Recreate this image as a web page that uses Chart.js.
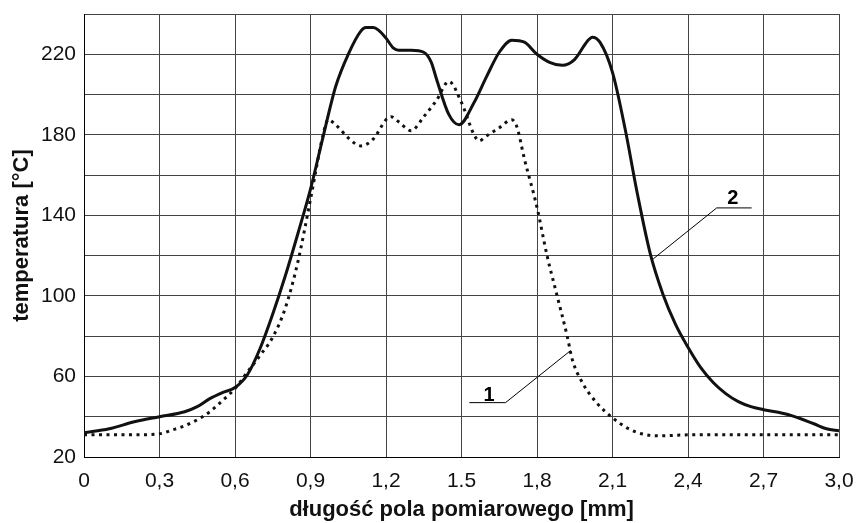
<!DOCTYPE html>
<html>
<head>
<meta charset="utf-8">
<script src="https://cdn.jsdelivr.net/npm/chart.js@4.4.1/dist/chart.umd.min.js"></script>
<style>
  html, body { margin: 0; padding: 0; background: #fff; }
  canvas { display: block; }
</style>
</head>
<body>
<canvas id="wykres" width="858" height="523"></canvas>
<script>
// Krzywa 1 (kropkowana) - położenie [mm] i temperatura [°C]
const x1 = [0, 0.1, 0.2, 0.3, 0.35, 0.4, 0.45, 0.5, 0.55, 0.6, 0.65, 0.7, 0.75, 0.8, 0.85, 0.9, 0.95, 0.97,
            1.0, 1.05, 1.1, 1.15, 1.2, 1.22, 1.25, 1.3, 1.35, 1.4, 1.45, 1.5, 1.55, 1.57, 1.6, 1.65, 1.7, 1.72,
            1.75, 1.8, 1.84, 1.88, 1.92, 1.94, 1.98, 2.04, 2.1, 2.16, 2.22, 2.29, 2.4, 2.7, 3.0];
const t1 = [31, 31, 31, 31.5, 33.4, 35.5, 38.5, 42.5, 48, 54, 62.3, 70.5, 79.5, 94, 117, 148, 180, 187.5,
            185, 178.5, 174.5, 178, 187.5, 189, 186.5, 182, 189, 197, 206.5, 196, 180, 177, 179.5, 183.5, 187.5, 184,
            168, 144, 120, 100, 80, 68.5, 57, 46.5, 39.5, 34.3, 31.4, 30.5, 31, 31, 31];

// Krzywa 2 (ciągła)
const x2 = [0, 0.1, 0.2, 0.3, 0.4, 0.45, 0.5, 0.55, 0.6, 0.65, 0.7, 0.75, 0.8, 0.85, 0.9, 0.95, 1.0, 1.05,
            1.1, 1.12, 1.15, 1.17, 1.2, 1.23, 1.25, 1.3, 1.35, 1.38, 1.4, 1.45, 1.49, 1.55, 1.6, 1.65, 1.7, 1.75,
            1.8, 1.85, 1.9, 1.95, 2.0, 2.02, 2.05, 2.1, 2.15, 2.2, 2.25, 2.3, 2.35, 2.4, 2.45, 2.5, 2.55, 2.6,
            2.65, 2.7, 2.8, 2.9, 2.95, 3.0];
const t2 = [32, 34, 37.5, 40, 42.5, 45, 49, 52, 54.5, 61, 74, 91, 110, 131, 153, 179, 204, 220,
            231.5, 233.3, 233.3, 232, 228, 223, 222, 222, 221, 216, 208, 190, 185, 196, 209, 221, 227, 226,
            220, 216, 214.5, 217.5, 226.5, 228.5, 226, 211, 183, 150, 121, 101, 86, 74.5, 64.5, 57, 51.5, 47.5,
            45, 43.5, 41, 36.5, 34, 33];

// Osie
const xTicks = [0, 0.3, 0.6, 0.9, 1.2, 1.5, 1.8, 2.1, 2.4, 2.7, 3.0];
const xTickLabels = ["0", "0,3", "0,6", "0,9", "1,2", "1.5", "1,8", "2,1", "2,4", "2,7", "3,0"];
const yLabels = [20, 60, 100, 140, 180, 220];

const FONT = "'Liberation Sans', Arial, sans-serif";

// Opisy krzywych "1" i "2" z liniami odniesienia
const opisy = {
    id: 'opisy',
    afterDatasetsDraw(chart) {
        const { ctx, scales: { x, y } } = chart;
        const rysuj = (tekst, tx, ty, p0, p1, p2) => {
            ctx.save();
            ctx.strokeStyle = '#000';
            ctx.lineWidth = 1;
            ctx.beginPath();
            ctx.moveTo(x.getPixelForValue(p0[0]), y.getPixelForValue(p0[1]));
            ctx.lineTo(x.getPixelForValue(p1[0]), y.getPixelForValue(p1[1]));
            ctx.lineTo(x.getPixelForValue(p2[0]), y.getPixelForValue(p2[1]));
            ctx.stroke();
            ctx.fillStyle = '#000';
            ctx.font = 'bold 20px ' + FONT;
            ctx.textAlign = 'center';
            ctx.textBaseline = 'alphabetic';
            ctx.fillText(tekst, x.getPixelForValue(tx), y.getPixelForValue(ty));
            ctx.restore();
        };
        rysuj('1', 1.61, 47.8, [1.531, 47], [1.675, 47], [1.934, 72.9]);
        rysuj('2', 2.578, 145.5, [2.653, 143.7], [2.514, 143.7], [2.262, 118.4]);
    }
};

const ctx = document.getElementById('wykres').getContext('2d');
new Chart(ctx, {
    type: 'line',
    data: {
        datasets: [
            {
                label: '1',
                data: x1.map((v, i) => ({ x: v, y: t1[i] })),
                borderColor: '#111',
                borderWidth: 3,
                borderDash: [3, 4.5],
                borderCapStyle: 'butt',
                pointRadius: 0,
                cubicInterpolationMode: 'monotone',
                fill: false
            },
            {
                label: '2',
                data: x2.map((v, i) => ({ x: v, y: t2[i] })),
                borderColor: '#111',
                borderWidth: 3,
                pointRadius: 0,
                cubicInterpolationMode: 'monotone',
                fill: false
            }
        ]
    },
    options: {
        responsive: false,
        animation: false,
        devicePixelRatio: 1,
        layout: { padding: { top: 14, right: 19, left: 0, bottom: 0 } },
        plugins: {
            legend: { display: false },
            tooltip: { enabled: false }
        },
        scales: {
            x: {
                type: 'linear',
                min: 0,
                max: 3,
                afterBuildTicks: s => { s.ticks = xTicks.map(v => ({ value: v })); },
                afterFit: s => { s.height = 66; s.paddingLeft = 0; s.paddingRight = 0; },
                grid: { color: '#444', lineWidth: 1, drawTicks: false },
                border: { color: '#000', width: 1 },
                ticks: {
                    color: '#111',
                    font: { family: FONT, size: 21 },
                    padding: 12,
                    maxRotation: 0,
                    autoSkip: false,
                    callback: (v, i) => xTickLabels[i]
                },
                title: {
                    display: true,
                    text: 'długość pola pomiarowego [mm]',
                    color: '#111',
                    font: { family: FONT, size: 22, weight: 'bold' },
                    padding: { top: 0, bottom: 0 }
                }
            },
            y: {
                min: 20,
                max: 240,
                afterFit: s => { s.width = 84; s.paddingTop = 0; s.paddingBottom = 0; },
                grid: { color: '#444', lineWidth: 1, drawTicks: false },
                border: { color: '#000', width: 1 },
                ticks: {
                    stepSize: 20,
                    color: '#111',
                    font: { family: FONT, size: 21 },
                    padding: 8,
                    callback: v => yLabels.includes(v) ? String(v) : ''
                },
                title: {
                    display: true,
                    text: 'temperatura [°C]',
                    color: '#111',
                    font: { family: FONT, size: 22, weight: 'bold' },
                    padding: { top: 9, bottom: 0 }
                }
            }
        }
    },
    plugins: [opisy]
});
</script>
</body>
</html>
